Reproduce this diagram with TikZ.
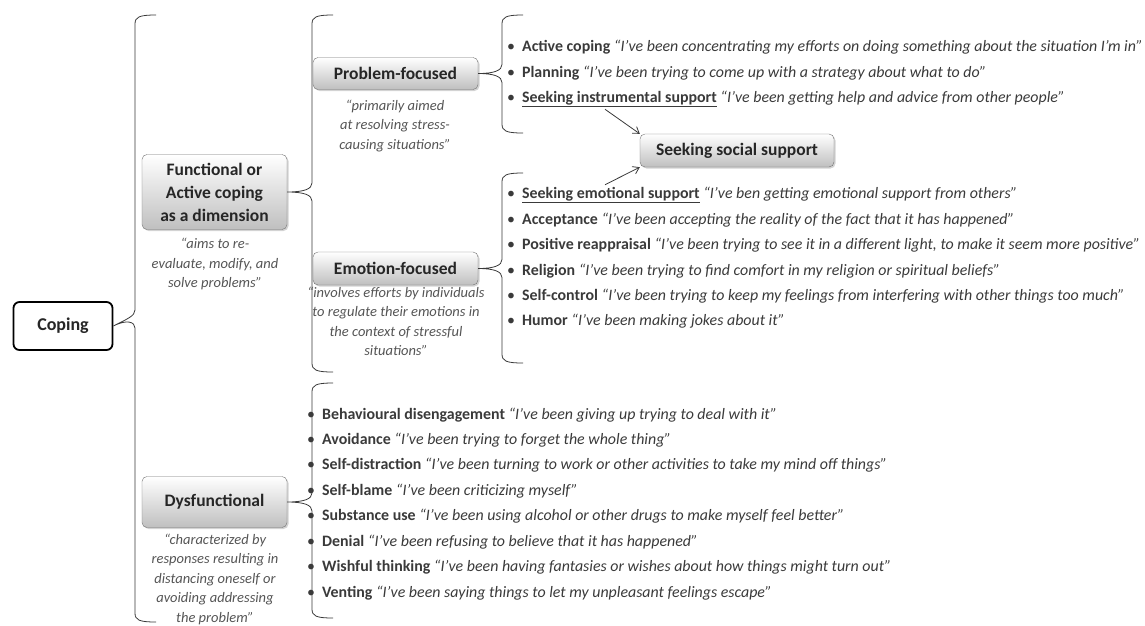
\documentclass[tikz,border=0pt]{standalone}
\usepackage{fontspec}
\setmainfont{Carlito}
\usetikzlibrary{arrows.meta,shadows}
\definecolor{ink}{HTML}{3A3A3A}
\definecolor{note}{HTML}{555555}
\newcommand{\curly}[5]{\draw[bracket] (#2+21,#3) .. controls (#2+4,#3) and (#2,#3+2) .. (#2,#3+9) -- (#2,#4-9) .. controls (#2,#4-3) and (#2-8,#4) .. (#1.east) .. controls (#2-8,#4) and (#2,#4+3) .. (#2,#4+9) -- (#2,#5-9) .. controls (#2,#5-2) and (#2+4,#5) .. (#2+21,#5);}
\begin{document}
\begin{tikzpicture}[x=1pt,y=-1pt,
	box/.style={draw=black!55, rounded corners=5pt, top color=white, bottom color=black!25,
		drop shadow={opacity=0.35,shadow xshift=1.5pt,shadow yshift=-1.5pt},
		font=\fontsize{17.5}{23}\selectfont\bfseries, text=black!85, align=center, inner sep=0pt},
	root/.style={draw=black, line width=1.8pt, rounded corners=6pt, fill=white,
		font=\fontsize{18}{21}\selectfont\bfseries, text=black!85, inner sep=0pt,
		minimum width=99pt, minimum height=48pt},
	caption/.style={font=\fontsize{14.5}{19.5}\selectfont\itshape, text=note, align=center, inner sep=0pt},
	item/.style={anchor=west, inner sep=0pt, font=\fontsize{15.9}{18}\selectfont, text=ink},
	bracket/.style={draw=ink, line width=0.8pt},
	link/.style={draw=ink, line width=0.8pt, -{Straight Barb[length=6pt,width=8pt]}}]
\useasboundingbox (0,0) rectangle (1145,625);
\node [root] (coping) at (63,326) {Coping};
\node [box, minimum width=145pt, minimum height=75pt] (func) at (214.5,192) {Functional or\\Active coping\\as a dimension};
\node [caption] (funcnote) at (215,264) {“aims to re-\\evaluate, modify, and\\solve problems”};
\node [box, minimum width=145pt, minimum height=51pt] (dys) at (214.5,502) {Dysfunctional};
\node [caption] (dysnote) at (215,579) {“characterized by\\responses resulting in\\distancing oneself or\\avoiding addressing\\the problem”};
\node [box, minimum width=165pt, minimum height=32pt] (prob) at (395.5,73.5) {Problem-focused};
\node [caption] (probnote) at (395,126) {“primarily aimed\\at resolving stress-\\causing situations”};
\node [box, minimum width=165pt, minimum height=33pt] (emo) at (395.5,268.5) {Emotion-focused};
\node [caption] (emonote) at (396,321.5) {“involves efforts by individuals\\to regulate their emotions in\\the context of stressful\\situations”};
\node [box, minimum width=194pt, minimum height=33pt] (social) at (737,150.5) {Seeking social support};
\curly{coping}{135}{15}{319}{622}
\curly{func}{312}{15}{192}{372}
\curly{dys}{312}{383}{502}{618}
\curly{prob}{502}{15}{73.5}{133}
\curly{emo}{502}{173}{268.5}{363}
\node [item] (p1) at (507,47) {\textbullet\hspace{7pt}\textbf{Active coping} \textit{“I’ve been concentrating my efforts on doing something about the situation I’m in”}};
\node [item] (p2) at (507,73) {\textbullet\hspace{7pt}\textbf{Planning} \textit{“I’ve been trying to come up with a strategy about what to do”}};
\node [item] (p3) at (507,99) {\textbullet\hspace{7pt}\underline{\textbf{Seeking instrumental support}} \textit{“I’ve been getting help and advice from other people”}};
\node [item] (e1) at (507,195) {\textbullet\hspace{7pt}\underline{\textbf{Seeking emotional support}} \textit{“I’ve ben getting emotional support from others”}};
\node [item] (e2) at (507,220) {\textbullet\hspace{7pt}\textbf{Acceptance} \textit{“I’ve been accepting the reality of the fact that it has happened”}};
\node [item] (e3) at (507,245.5) {\textbullet\hspace{7pt}\textbf{Positive reappraisal} \textit{“I’ve been trying to see it in a different light, to make it seem more positive”}};
\node [item] (e4) at (507,271) {\textbullet\hspace{7pt}\textbf{Religion} \textit{“I’ve been trying to find comfort in my religion or spiritual beliefs”}};
\node [item] (e5) at (507,296) {\textbullet\hspace{7pt}\textbf{Self-control} \textit{“I’ve been trying to keep my feelings from interfering with other things too much”}};
\node [item] (e6) at (507,321) {\textbullet\hspace{7pt}\textbf{Humor} \textit{“I’ve been making jokes about it”}};
\node [item] (d1) at (307,415) {\textbullet\hspace{7pt}\textbf{Behavioural disengagement} \textit{“I've been giving up trying to deal with it”}};
\node [item] (d2) at (307,440) {\textbullet\hspace{7pt}\textbf{Avoidance} \textit{“I've been trying to forget the whole thing”}};
\node [item] (d3) at (307,465.5) {\textbullet\hspace{7pt}\textbf{Self-distraction} \textit{“I've been turning to work or other activities to take my mind off things”}};
\node [item] (d4) at (307,491) {\textbullet\hspace{7pt}\textbf{Self-blame} \textit{“I’ve been criticizing myself”}};
\node [item] (d5) at (307,516.5) {\textbullet\hspace{7pt}\textbf{Substance use} \textit{“I've been using alcohol or other drugs to make myself feel better”}};
\node [item] (d6) at (307,542) {\textbullet\hspace{7pt}\textbf{Denial} \textit{“I've been refusing to believe that it has happened”}};
\node [item] (d7) at (307,567.5) {\textbullet\hspace{7pt}\textbf{Wishful thinking} \textit{“I've been having fantasies or wishes about how things might turn out”}};
\node [item] (d8) at (307,593) {\textbullet\hspace{7pt}\textbf{Venting} \textit{“I've been saying things to let my unpleasant feelings escape”}};
\draw [link] ([xshift=98pt,yshift=-2pt]p3.south west) -- (social.north west);
\draw [link] ([xshift=98pt,yshift=2pt]e1.north west) -- (social.south west);
\end{tikzpicture}
\end{document}
